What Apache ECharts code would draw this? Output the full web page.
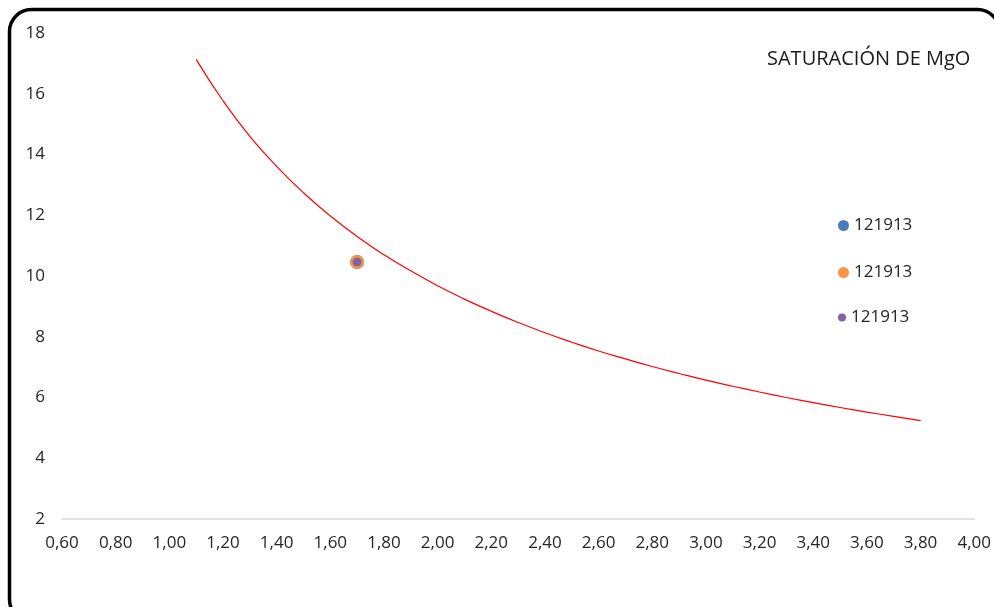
<!DOCTYPE html>
<html>
<head>
<meta charset="utf-8">
<script src="https://cdn.jsdelivr.net/npm/echarts@6/dist/echarts.min.js"></script>
<style>
html,body{margin:0;padding:0;background:#fff;}
#c{width:994px;height:607px;}
</style>
</head>
<body>
<div id="c"></div>
<script>
// Trend curve
const curveX = [1.10, 1.20, 1.30, 1.40, 1.50, 1.60, 1.70, 1.80, 1.90, 2.00, 2.10, 2.20, 2.30, 2.40, 2.50, 2.60, 2.70, 2.80, 2.90, 3.00, 3.10, 3.20, 3.30, 3.40, 3.50, 3.60, 3.70, 3.80];
const curveY = [17.13, 15.77, 14.60, 13.61, 12.74, 11.98, 11.30, 10.70, 10.17, 9.68, 9.24, 8.84, 8.47, 8.13, 7.82, 7.53, 7.27, 7.02, 6.79, 6.57, 6.37, 6.18, 6.00, 5.83, 5.67, 5.52, 5.38, 5.24];
// Sample point (three series, same sample)
const sampleX = [1.70];
const sampleY = [10.46];
const seriesNames = ['121913', '121913\u200b', '121913\u200b\u200b'];
const legendLabel = '121913';
const titleText = 'SATURACIÓN DE MgO';

const font = '"Open Sans", "Noto Sans", sans-serif';
const chart = echarts.init(document.getElementById('c'), null, {renderer: 'canvas'});

const pts = sampleX.map((x, i) => [x, sampleY[i]]);
const curve = curveX.map((x, i) => [x, curveY[i]]);

function legendAt(name, top, size) {
  return {
    data: [name], left: 838, top: top, orient: 'vertical', padding: 0,
    itemWidth: size, itemHeight: size, icon: 'circle', selectedMode: false,
    formatter: () => legendLabel,
    textStyle: {fontFamily: font, fontSize: 17, color: '#262626'}
  };
}

chart.setOption({
  animation: false,
  backgroundColor: '#fff',
  title: {
    text: titleText, left: 767, top: 49, padding: 0,
    textStyle: {fontFamily: font, fontSize: 20, fontWeight: 'normal', color: '#1a1a1a'}
  },
  legend: [
    legendAt(seriesNames[0], 217, 11),
    legendAt(seriesNames[1], 264, 11),
    legendAt(seriesNames[2], 309, 8)
  ],
  grid: {left: 62, right: 18, top: 33, bottom: 88, containLabel: false},
  xAxis: {
    type: 'value', min: 0.6, max: 4.0, interval: 0.2,
    axisLine: {show: true, lineStyle: {color: '#d9d9d9', width: 1.5}},
    axisTick: {show: false},
    splitLine: {show: false},
    axisLabel: {
      margin: 16, fontFamily: font, fontSize: 17, color: '#262626',
      formatter: v => v.toFixed(2).replace('.', ',')
    }
  },
  yAxis: {
    type: 'value', min: 2, max: 18, interval: 2,
    axisLine: {show: false}, axisTick: {show: false}, splitLine: {show: false},
    axisLabel: {margin: 17, fontFamily: font, fontSize: 17, color: '#262626'}
  },
  graphic: [{
    type: 'rect', z: 100, silent: true,
    shape: {x: 9.5, y: 9.5, width: 990, height: 612, r: 22},
    style: {fill: 'none', stroke: '#000', lineWidth: 3.5}
  }],
  series: [
    {
      type: 'line', data: curve, smooth: true, showSymbol: false, silent: true,
      lineStyle: {color: '#ff0000', width: 1.2}, z: 1
    },
    {name: seriesNames[0], type: 'scatter', data: pts, symbolSize: 14, itemStyle: {color: '#4a7ebb', opacity: 1}, z: 2},
    {name: seriesNames[1], type: 'scatter', data: pts, symbolSize: 14, itemStyle: {color: '#f79646', opacity: 1}, z: 3},
    {name: seriesNames[2], type: 'scatter', data: pts, symbolSize: 9, itemStyle: {color: '#8064a2', opacity: 1}, z: 4}
  ]
});
</script>
</body>
</html>
